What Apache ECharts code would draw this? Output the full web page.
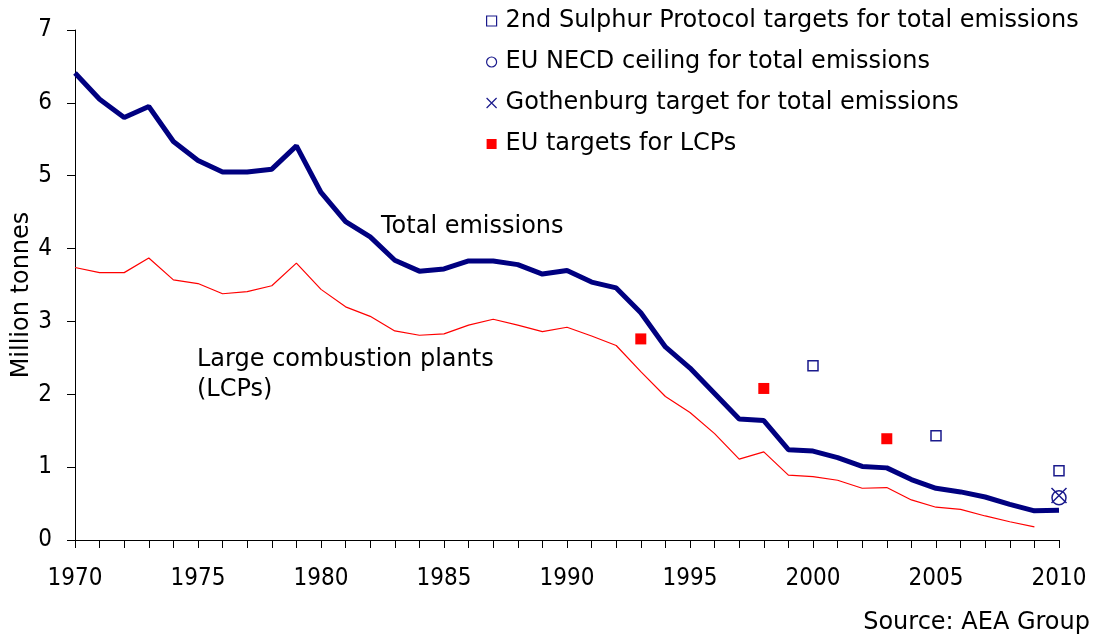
<!DOCTYPE html>
<html>
<head>
<meta charset="utf-8">
<script src="https://cdn.jsdelivr.net/npm/echarts@6/dist/echarts.min.js"></script>
<style>
  html, body { margin: 0; padding: 0; background: #fff; }
  #chart { width: 1095px; height: 637px; }
</style>
</head>
<body>
<div id="chart"></div>
<script>
const years = [1970, 1971, 1972, 1973, 1974, 1975, 1976, 1977, 1978, 1979,
  1980, 1981, 1982, 1983, 1984, 1985, 1986, 1987, 1988, 1989,
  1990, 1991, 1992, 1993, 1994, 1995, 1996, 1997, 1998, 1999,
  2000, 2001, 2002, 2003, 2004, 2005, 2006, 2007, 2008, 2009, 2010]

const totalEmissions = [6.41, 6.05, 5.80, 5.95, 5.47, 5.21, 5.05, 5.05, 5.09, 5.41,
  4.77, 4.37, 4.16, 3.84, 3.69, 3.72, 3.83, 3.83, 3.78, 3.65,
  3.70, 3.54, 3.46, 3.12, 2.65, 2.36, 2.01, 1.66, 1.64, 1.24,
  1.22, 1.13, 1.01, 0.99, 0.83, 0.71, 0.66, 0.59, 0.49, 0.40, 0.41]

const lcpEmissions = [3.74, 3.67, 3.67, 3.87, 3.57, 3.52, 3.38, 3.41, 3.49, 3.80,
  3.44, 3.20, 3.07, 2.87, 2.81, 2.83, 2.95, 3.03, 2.95, 2.86,
  2.92, 2.80, 2.67, 2.31, 1.97, 1.75, 1.46, 1.11, 1.21, 0.89,
  0.87, 0.82, 0.71, 0.72, 0.55, 0.45, 0.42, 0.33, 0.25, 0.18, null]

const sulphurYears = [2000, 2005, 2010]
const sulphurTargets = [2.39, 1.43, 0.95]
const necdYears = [2010]
const necdCeiling = [0.58]
const gothenburgYears = [2010]
const gothenburgTarget = [0.61]
const lcpTargetYears = [1993, 1998, 2003]
const lcpTargets = [2.76, 2.08, 1.39]

const seriesNames = [
  '2nd Sulphur Protocol targets for total emissions',
  'EU NECD ceiling for total emissions',
  'Gothenburg target for total emissions',
  'EU targets for LCPs'
]

const navy = '#000080'
const markerBlue = '#1a1a8c'
const font = 'DejaVu Sans, Verdana, sans-serif'
const tickFont = 'DejaVu Sans Condensed, DejaVu Sans, sans-serif'
const crossPath = 'path://M0,0L10,10M10,0L0,10'

const pairs = (xs, ys) => xs.map((x, i) => [x, ys[i]])

const chart = echarts.init(document.getElementById('chart'))

const option = {
  animation: false,
  backgroundColor: '#fff',
  textStyle: { fontFamily: font },
  grid: { left: 75, right: 36, top: 30, bottom: 97 },
  legend: {
    orient: 'vertical',
    left: 486,
    top: 9,
    padding: 0,
    itemWidth: 10,
    itemHeight: 10,
    itemGap: 17,
    textStyle: { fontSize: 24, lineHeight: 24, color: '#000', fontFamily: font, padding: [0, 0, 0, 4] },
    data: [
      { name: seriesNames[0], icon: 'rect', itemStyle: { color: '#fff', borderColor: markerBlue, borderWidth: 1.2, opacity: 1 } },
      { name: seriesNames[1], icon: 'circle', itemStyle: { color: '#fff', borderColor: markerBlue, borderWidth: 1.2, opacity: 1 } },
      { name: seriesNames[2], icon: crossPath, itemStyle: { color: 'transparent', borderColor: markerBlue, borderWidth: 1.2, opacity: 1 } },
      { name: seriesNames[3], icon: 'rect', itemStyle: { color: '#ff0000', opacity: 1 } }
    ]
  },
  xAxis: {
    type: 'value',
    min: 1970,
    max: 2010,
    interval: 1,
    splitLine: { show: false },
    axisLine: { onZero: false, lineStyle: { color: '#000', width: 1 } },
    axisTick: { show: true, length: 8, lineStyle: { color: '#000' } },
    axisLabel: {
      color: '#000',
      fontSize: 24,
      fontFamily: tickFont,
      margin: 27,
      showMinLabel: true,
      showMaxLabel: true,
      formatter: v => (v % 5 === 0 ? String(v) : '')
    }
  },
  yAxis: {
    type: 'value',
    min: 0,
    max: 7,
    interval: 1,
    splitLine: { show: false },
    axisLine: { show: true, lineStyle: { color: '#000', width: 1 } },
    axisTick: { show: true, length: 8, lineStyle: { color: '#000' } },
    axisLabel: { color: '#000', fontSize: 24, fontFamily: tickFont, margin: 23 }
  },
  series: [
    {
      name: 'Total emissions',
      type: 'line',
      data: pairs(years, totalEmissions),
      showSymbol: false,
      lineStyle: { color: navy, width: 5 },
      z: 3
    },
    {
      name: 'Large combustion plants',
      type: 'line',
      data: pairs(years, lcpEmissions),
      showSymbol: false,
      lineStyle: { color: '#ff0000', width: 1.2 },
      z: 2
    },
    {
      name: seriesNames[0],
      type: 'scatter',
      data: pairs(sulphurYears, sulphurTargets),
      symbol: 'rect',
      symbolSize: 10,
      itemStyle: { color: '#fff', borderColor: markerBlue, borderWidth: 1.5, opacity: 1 },
      z: 4
    },
    {
      name: seriesNames[1],
      type: 'scatter',
      data: pairs(necdYears, necdCeiling),
      symbol: 'circle',
      symbolSize: 14,
      itemStyle: { color: 'transparent', borderColor: markerBlue, borderWidth: 1.5, opacity: 1 },
      z: 4
    },
    {
      name: seriesNames[2],
      type: 'scatter',
      data: pairs(gothenburgYears, gothenburgTarget),
      symbol: crossPath,
      symbolSize: 15,
      itemStyle: { color: 'transparent', borderColor: markerBlue, borderWidth: 1.5, opacity: 1 },
      z: 4
    },
    {
      name: seriesNames[3],
      type: 'scatter',
      data: pairs(lcpTargetYears, lcpTargets),
      symbol: 'rect',
      symbolSize: 11,
      itemStyle: { color: '#ff0000', opacity: 1 },
      z: 4
    }
  ],
  graphic: [
    {
      type: 'text',
      x: 22,
      y: 295,
      rotation: Math.PI / 2,
      style: { text: 'Million tonnes', fontSize: 24, fontFamily: font, fill: '#000', align: 'center', verticalAlign: 'middle' }
    },
    {
      type: 'text',
      left: 381,
      top: 215,
      style: { text: 'Total emissions', fontSize: 24, fontFamily: font, fill: '#000' }
    },
    {
      type: 'text',
      left: 197,
      top: 345,
      style: { text: 'Large combustion plants\n(LCPs)', fontSize: 24, lineHeight: 30, fontFamily: font, fill: '#000' }
    },
    {
      type: 'text',
      right: 5,
      top: 611,
      style: { text: 'Source: AEA Group', fontSize: 24, fontFamily: font, fill: '#000' }
    }
  ]
}

chart.setOption(option)
</script>
</body>
</html>
